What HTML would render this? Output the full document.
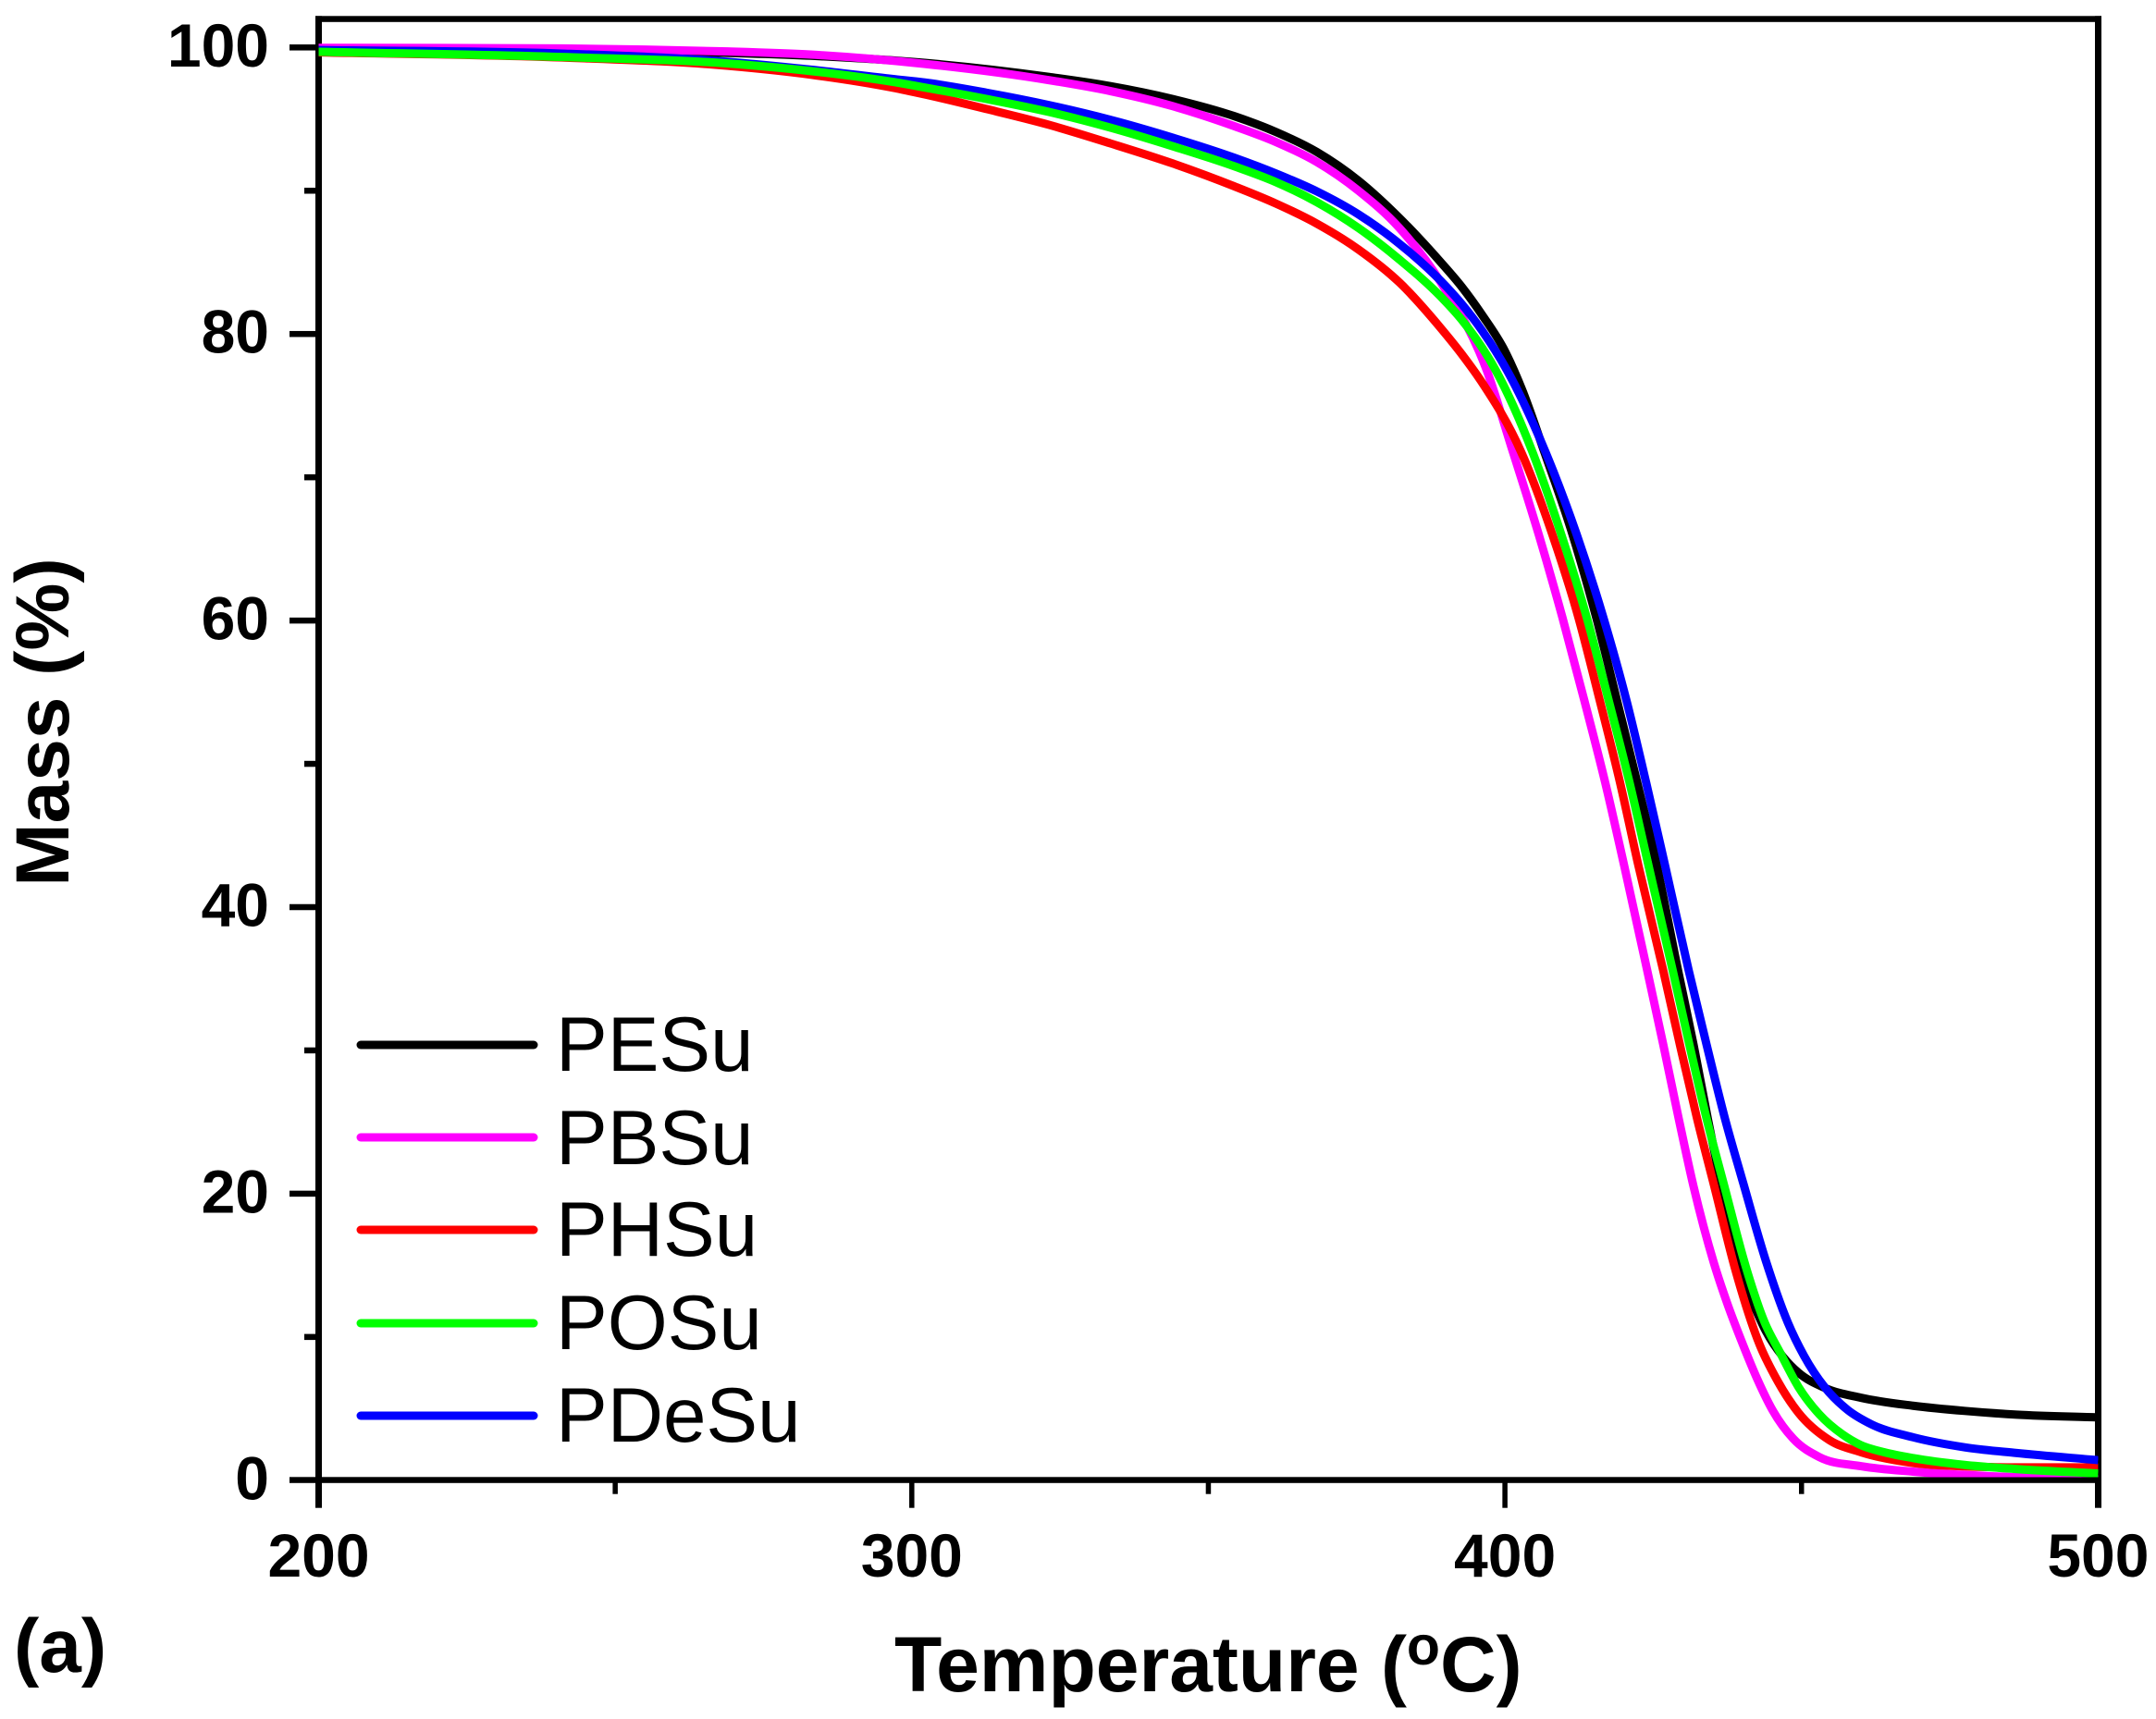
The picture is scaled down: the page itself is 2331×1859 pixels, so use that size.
<!DOCTYPE html>
<html lang="en">
<head>
<meta charset="utf-8">
<title>Mass vs Temperature</title>
<style>
html,body{margin:0;padding:0;background:#fff;}
svg{display:block;}
text{font-family:"Liberation Sans",Arial,sans-serif;fill:#000;}
.tick{font-weight:700;font-size:66px;}
.title{font-weight:700;font-size:82px;}
.xtitle{font-weight:700;font-size:84px;}
.leg{font-size:83.5px;}
</style>
</head>
<body>
<svg id="chart" xmlns="http://www.w3.org/2000/svg" width="2331" height="1859" viewBox="0 0 2331 1859">
  <rect x="0" y="0" width="2331" height="1859" fill="#fff"/>
  <defs><clipPath id="plot-clip"><rect x="344.5" y="24" width="1924" height="1573.5"/></clipPath></defs>
  <g id="axes"></g>
  <g id="curves" clip-path="url(#plot-clip)"></g>
  <g id="frame">
    <rect x="341" y="17.3" width="1931" height="6.5" fill="#000"/>
  </g>
  <g>
    <g>
      <line x1="390" x2="577" y1="1130" y2="1130" stroke="#000000" stroke-width="9" stroke-linecap="round"/>
      <text class="leg" x="601" y="1158">PESu</text>
    </g>
    <g>
      <line x1="390" x2="577" y1="1230" y2="1230" stroke="#ff00ff" stroke-width="9" stroke-linecap="round"/>
      <text class="leg" x="601" y="1259">PBSu</text>
    </g>
    <g>
      <line x1="390" x2="577" y1="1330" y2="1330" stroke="#ff0000" stroke-width="9" stroke-linecap="round"/>
      <text class="leg" x="601" y="1358">PHSu</text>
    </g>
    <g>
      <line x1="390" x2="577" y1="1431" y2="1431" stroke="#00ff00" stroke-width="9" stroke-linecap="round"/>
      <text class="leg" x="601" y="1459">POSu</text>
    </g>
    <g>
      <line x1="390" x2="577" y1="1531" y2="1531" stroke="#0000ff" stroke-width="9" stroke-linecap="round"/>
      <text class="leg" x="601" y="1559">PDeSu</text>
    </g>
  </g>
  <text class="xtitle" x="967" y="1829">Temperature (<tspan font-size="59" dy="-29">o</tspan><tspan dy="29">C)</tspan></text>
  <text class="title" transform="translate(74,781) rotate(-90)" text-anchor="middle">Mass (%)</text>
  <text class="title" x="15" y="1808">(a)</text>
</svg>
<script>
const xMajorTicks = [200, 300, 400, 500];
const xMinorTicks = [250, 350, 450];
const yMajorTicks = [0, 20, 40, 60, 80, 100];
const yMinorTicks = [10, 30, 50, 70, 90];

const tempPESu = [200,255,283,302.2,323,333.5,344,354.4,361.4,368.3,375.3,382.2,389.2,392.7,396.2,400,403,406.7,411.4,415.4,418.9,422.3,425.6,429.2,431.8,434.2,436.5,439.4,441.2,444,446.9,449.5,453.9,460,468.8,477.5,486.3,500];
const massPESu = [99.95,99.75,99.42,98.92,97.95,97.3,96.4,95.2,94.1,92.7,90.7,88.1,85,83.3,81.3,78.8,76,71.7,66,60.2,54.4,48.7,42.9,35.55,30.39,25.23,20.5,14.91,13,10.4,8.6,7.5,6.45,5.76,5.2,4.84,4.58,4.39];

const tempPBSu = [200,241,255,269,283,302.2,323.1,333.5,344,354.4,361.4,368.3,375.3,382.2,389.2,396.9,401.4,405.7,409.7,413.4,416.9,420.1,424,426.7,429.3,431.8,435.2,437.6,439.9,442.5,445.1,448.6,453,460,468.8,481.9,500];
const massPBSu = [99.97,99.93,99.85,99.72,99.5,98.85,97.72,96.95,95.9,94.5,93.4,92,90,87.4,83.6,77.5,71.7,66,60.2,54.4,48.7,42.9,35.55,30.39,25.23,20.5,15.2,12.2,9.7,7.1,4.9,2.9,1.62,0.98,0.6,0.28,0.06];

const tempPHSu = [200,241,269,283,296.7,302.2,312.6,323.1,333.5,344,354.4,361.4,368.3,375.3,382.2,389.2,392.7,396,402.8,408,412.4,416,419.4,422.5,426.7,429.5,432.4,435.3,438.7,442.9,446,449.5,454.7,460,468.8,477.5,486.3,500];
const massPHSu = [99.66,99.3,98.72,98.1,97.2,96.72,95.7,94.6,93.3,91.9,90.3,89.1,87.7,85.9,83.6,80.4,78.6,76.7,71.7,66,60.2,54.4,48.7,42.9,35.55,30.39,25.23,20.5,14.91,9.5,6.9,4.7,2.8,1.96,1.2,0.97,0.9,0.9];

const tempPOSu = [200,241,269,283,296.7,302.2,312.6,323.1,333.5,344,354.4,361.4,368.3,375.3,382.2,389.2,392.7,398.4,404.7,409.5,413.8,417.5,421,424.2,428.3,431.1,434,437,440.6,443.8,446.4,449.5,453,456.9,460,464,468.8,477.5,486.3,500];
const massPOSu = [99.7,99.33,98.88,98.35,97.6,97.2,96.4,95.5,94.4,93.1,91.7,90.6,89.2,87.4,85.2,82.6,81,77.5,71.7,66,60.2,54.4,48.7,42.9,35.55,30.39,25.23,20.5,14.91,11,8.9,6.5,4.6,3.2,2.45,1.95,1.55,1.07,0.78,0.47];

const tempPDeSu = [200,241,269,283,296.7,302.2,312.6,323.1,333.5,344,354.4,361.4,368.3,375.3,382.2,389.2,392.7,396.2,400.3,406.9,412.1,416.6,420.5,423.8,427,431,434,437.1,440.2,444,447.7,450.4,453.9,457.8,461.8,468.8,477.5,486.3,500];
const massPDeSu = [99.82,99.57,99,98.45,97.8,97.55,96.84,95.98,94.95,93.7,92.3,91.2,89.95,88.35,86.3,83.7,82.1,80.2,77.5,71.7,66,60.2,54.4,48.7,42.9,35.55,30.39,25.23,20.7,15.3,11,8.7,6.5,4.9,3.9,3,2.3,1.9,1.4];

const NS = 'http://www.w3.org/2000/svg';
function xScale(t) { return 344.5 + (t - 200) * 6.413; }
function yScale(v) { return 1600.8 - v * 15.495; }

function smoothPath(px, py) {
  const n = px.length, d = [], w = [], m = [];
  for (let i = 0; i < n - 1; i++) {
    w.push(px[i + 1] - px[i]);
    d.push((py[i + 1] - py[i]) / w[i]);
  }
  m.push(d[0]);
  for (let i = 1; i < n - 1; i++) {
    const p = (w[i] * d[i - 1] + w[i - 1] * d[i]) / (w[i - 1] + w[i]);
    const lim = 3 * Math.min(Math.abs(d[i - 1]), Math.abs(d[i]));
    m.push(Math.sign(p) * Math.min(Math.abs(p), lim));
  }
  m.push(d[n - 2]);
  let s = 'M' + px[0].toFixed(2) + ' ' + py[0].toFixed(2);
  for (let i = 0; i < n - 1; i++) {
    const h = w[i] / 3;
    s += 'C' + (px[i] + h).toFixed(2) + ' ' + (py[i] + m[i] * h).toFixed(2) + ' ' +
         (px[i + 1] - h).toFixed(2) + ' ' + (py[i + 1] - m[i + 1] * h).toFixed(2) + ' ' +
         px[i + 1].toFixed(2) + ' ' + py[i + 1].toFixed(2);
  }
  return s;
}

const axes = document.getElementById('axes');

function addRect(x, y, w, h, name) {
  const el = document.createElementNS(NS, 'rect');
  el.setAttribute('x', x);
  el.setAttribute('y', y);
  el.setAttribute('width', w);
  el.setAttribute('height', h);
  el.setAttribute('fill', '#000');
  
  
  axes.appendChild(el);
}

function addLabel(x, y, anchor, str, name) {
  const el = document.createElementNS(NS, 'text');
  el.setAttribute('class', 'tick');
  el.setAttribute('x', x);
  el.setAttribute('y', y);
  el.setAttribute('text-anchor', anchor);
  el.textContent = str;
  
  
  axes.appendChild(el);
}

addRect(341, 17.3, 7, 1613.4, 'left-spine');
addRect(2265, 17.3, 7, 1613.4, 'right-spine');
addRect(313, 1597.3, 1959, 6.5, 'bottom-spine');

xMajorTicks.forEach(function (t) {
  if (t !== 200 && t !== 500) addRect(xScale(t) - 2.75, 1600, 5.5, 30.7, 'x-major-tick-' + t);
  addLabel(xScale(t), 1705, 'middle', String(t), 'x-tick-label-' + t);
});
xMinorTicks.forEach(function (t) {
  addRect(xScale(t) - 2.75, 1600, 5.5, 15.7, 'x-minor-tick-' + t);
});
yMajorTicks.forEach(function (v) {
  if (v !== 0) addRect(313, yScale(v) - 3.25, 30, 6.5, 'y-major-tick-' + v);
  addLabel(291, yScale(v) + 20.5, 'end', String(v), 'y-tick-label-' + v);
});
yMinorTicks.forEach(function (v) {
  addRect(329, yScale(v) - 3.25, 14, 6.5, 'y-minor-tick-' + v);
});

const seriesNames = ['pesu', 'pbsu', 'phsu', 'pdesu', 'posu'];
const seriesColors = ['#000000', '#ff00ff', '#ff0000', '#0000ff', '#00ff00'];
const seriesTemps = [tempPESu, tempPBSu, tempPHSu, tempPDeSu, tempPOSu];
const seriesMass = [massPESu, massPBSu, massPHSu, massPDeSu, massPOSu];

const curves = document.getElementById('curves');
seriesNames.forEach(function (name, i) {
  const el = document.createElementNS(NS, 'path');
  el.setAttribute('d', smoothPath(seriesTemps[i].map(xScale), seriesMass[i].map(yScale)));
  el.setAttribute('fill', 'none');
  el.setAttribute('stroke', seriesColors[i]);
  el.setAttribute('stroke-width', '9');
  el.setAttribute('stroke-linejoin', 'round');
  
  
  curves.appendChild(el);
});
</script>
</body>
</html>
